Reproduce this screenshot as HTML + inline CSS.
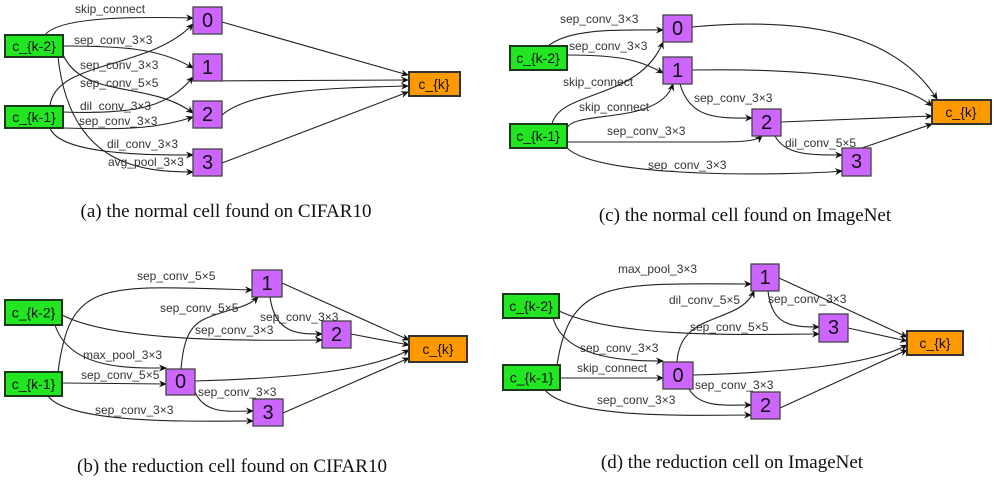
<!DOCTYPE html>
<html><head><meta charset="utf-8"><style>
html,body{margin:0;padding:0;background:#fff;}
svg{display:block}
.e{fill:none;stroke:#222;stroke-width:1.1;marker-end:url(#a)}
.l{font-family:"Liberation Sans",sans-serif;font-size:12px;fill:#333}
.g{fill:#22e622;stroke:#1a3a1a;stroke-width:2}
.p{fill:#cc66ff;stroke:#444;stroke-width:1.3}
.o{fill:#ff9900;stroke:#333;stroke-width:2}
.nt{font-family:"Liberation Sans",sans-serif;font-size:14px;fill:#111;text-anchor:middle;dominant-baseline:central}
.nn{font-family:"Liberation Sans",sans-serif;font-size:20px;fill:#111;text-anchor:middle;dominant-baseline:central}
.c{font-family:"Liberation Serif",serif;font-size:19px;fill:#111;text-anchor:middle}
</style></head><body>
<svg width="994" height="486" viewBox="0 0 994 486">
<defs><marker id="a" markerWidth="8" markerHeight="8" refX="7" refY="4" orient="auto" markerUnits="userSpaceOnUse"><path d="M0,0.5 L8,4 L0,7.5 L2.5,4 z" fill="#111"/></marker></defs>

<!-- Panel a -->
<path class="e" d="M45 35 C60 15,150 17,193 18"/>
<path class="e" d="M63 46 C120 46,160 48,193 68"/>
<path class="e" d="M50 106 C55 60,150 70,193 24"/>
<path class="e" d="M62 52 C80 100,150 80,193 113"/>
<path class="e" d="M63 112 C140 115,170 105,193 77"/>
<path class="e" d="M63 128 C130 130,160 128,193 117"/>
<path class="e" d="M50 128 C60 155,150 155,193 155"/>
<path class="e" d="M58 57 C70 165,140 172,193 172"/>
<path class="e" d="M222 22 L408 75"/>
<path class="e" d="M195 81 L408 80"/>
<path class="e" d="M222 115 C250 90,330 88,408 86"/>
<path class="e" d="M222 163 L408 92"/>
<text class="l" x="75" y="13">skip_connect</text>
<text class="l" x="74" y="44">sep_conv_3×3</text>
<text class="l" x="80" y="69">sep_conv_3×3</text>
<text class="l" x="80" y="87">sep_conv_5×5</text>
<text class="l" x="80" y="110">dil_conv_3×3</text>
<text class="l" x="79" y="125">sep_conv_3×3</text>
<text class="l" x="107" y="148">dil_conv_3×3</text>
<text class="l" x="108" y="166">avg_pool_3×3</text>
<rect class="g" x="5" y="35" width="58" height="22"/><text class="nt" x="34" y="46">c_{k-2}</text>
<rect class="g" x="5" y="106" width="58" height="22"/><text class="nt" x="34" y="117">c_{k-1}</text>
<rect class="p" x="193" y="7" width="29" height="27"/><text class="nn" x="207.5" y="21">0</text>
<rect class="p" x="193" y="54" width="29" height="27"/><text class="nn" x="207.5" y="68">1</text>
<rect class="p" x="193" y="101" width="29" height="27"/><text class="nn" x="207.5" y="115">2</text>
<rect class="p" x="193" y="149" width="29" height="27"/><text class="nn" x="207.5" y="163">3</text>
<rect class="o" x="409" y="72" width="51" height="24"/><text class="nt" x="434" y="84">c_{k}</text>
<text class="c" x="226" y="217">(a) the normal cell found on CIFAR10</text>

<!-- Panel c -->
<path class="e" d="M548 46 C570 28,620 30,663 30"/>
<path class="e" d="M567 55 C620 55,640 60,663 73"/>
<path class="e" d="M552 124 C560 90,640 100,663 42"/>
<path class="e" d="M567 128 C575 110,660 125,673 84"/>
<path class="e" d="M567 142 L700 142 C740 142,755 142,762 136"/>
<path class="e" d="M567 148 C600 180,800 175,842 171"/>
<path class="e" d="M680 84 C690 120,720 118,752 118"/>
<path class="e" d="M775 136 C785 155,810 155,842 155"/>
<path class="e" d="M692 27 C820 15,900 40,937 99"/>
<path class="e" d="M692 70 C820 68,900 80,932 106"/>
<path class="e" d="M781 122 L932 116"/>
<path class="e" d="M862 148 L932 124"/>
<text class="l" x="560" y="23">sep_conv_3×3</text>
<text class="l" x="569" y="50">sep_conv_3×3</text>
<text class="l" x="563" y="86">skip_connect</text>
<text class="l" x="579" y="111">skip_connect</text>
<text class="l" x="607" y="135">sep_conv_3×3</text>
<text class="l" x="648" y="169">sep_conv_3×3</text>
<text class="l" x="694" y="102">sep_conv_3×3</text>
<text class="l" x="785" y="147">dil_conv_5×5</text>
<rect class="g" x="510" y="46" width="57" height="24"/><text class="nt" x="538" y="58">c_{k-2}</text>
<rect class="g" x="510" y="124" width="57" height="24"/><text class="nt" x="538" y="136">c_{k-1}</text>
<rect class="p" x="663" y="15" width="29" height="27"/><text class="nn" x="677.5" y="29">0</text>
<rect class="p" x="663" y="57" width="29" height="27"/><text class="nn" x="677.5" y="71">1</text>
<rect class="p" x="752" y="109" width="29" height="27"/><text class="nn" x="766.5" y="123">2</text>
<rect class="p" x="842" y="148" width="29" height="28"/><text class="nn" x="856.5" y="162">3</text>
<rect class="o" x="932" y="100" width="59" height="24"/><text class="nt" x="961" y="112">c_{k}</text>
<text class="c" x="745" y="221">(c) the normal cell found on ImageNet</text>

<!-- Panel b -->
<path class="e" d="M58 372 C70 280,100 285,252 290"/>
<path class="e" d="M181 369 C185 320,200 320,230 310 C250 305,255 300,258 297"/>
<path class="e" d="M62 315 C120 345,280 340,322 340"/>
<path class="e" d="M55 325 C70 370,130 368,166 368"/>
<path class="e" d="M62 383 L166 384"/>
<path class="e" d="M48 396 C70 425,200 421,253 421"/>
<path class="e" d="M270 297 C275 335,300 334,322 334"/>
<path class="e" d="M195 392 C205 415,230 411,253 411"/>
<path class="e" d="M282 283 L409 340"/>
<path class="e" d="M351 334 L409 345"/>
<path class="e" d="M195 381 C300 378,370 370,409 350"/>
<path class="e" d="M283 413 L409 358"/>
<text class="l" x="137" y="280">sep_conv_5×5</text>
<text class="l" x="160" y="312">sep_conv_5×5</text>
<text class="l" x="260" y="321">sep_conv_3×3</text>
<text class="l" x="195" y="334">sep_conv_3×3</text>
<text class="l" x="83" y="359">max_pool_3×3</text>
<text class="l" x="81" y="379">sep_conv_5×5</text>
<text class="l" x="198" y="396">sep_conv_3×3</text>
<text class="l" x="95" y="414">sep_conv_3×3</text>
<rect class="g" x="5" y="300" width="57" height="25"/><text class="nt" x="33.5" y="312.5">c_{k-2}</text>
<rect class="g" x="5" y="372" width="57" height="24"/><text class="nt" x="33.5" y="384">c_{k-1}</text>
<rect class="p" x="166" y="369" width="29" height="26"/><text class="nn" x="180.5" y="382">0</text>
<rect class="p" x="252" y="270" width="30" height="27"/><text class="nn" x="267" y="284">1</text>
<rect class="p" x="322" y="321" width="29" height="27"/><text class="nn" x="336.5" y="335">2</text>
<rect class="p" x="253" y="399" width="30" height="27"/><text class="nn" x="268" y="413">3</text>
<rect class="o" x="409" y="336" width="58" height="26"/><text class="nt" x="438" y="349">c_{k}</text>
<text class="c" x="232" y="472">(b) the reduction cell found on CIFAR10</text>

<!-- Panel d -->
<path class="e" d="M557 365 C570 280,610 283,751 284"/>
<path class="e" d="M677 362 C680 310,740 325,754 291"/>
<path class="e" d="M559 311 C620 340,760 334,819 334"/>
<path class="e" d="M553 318 C565 360,630 361,663 361"/>
<path class="e" d="M560 378 L663 378"/>
<path class="e" d="M545 390 C570 420,700 415,751 415"/>
<path class="e" d="M768 291 C772 325,790 327,819 327"/>
<path class="e" d="M689 389 C700 408,725 405,751 405"/>
<path class="e" d="M779 278 L907 337"/>
<path class="e" d="M848 328 L907 341"/>
<path class="e" d="M693 375 C790 372,870 365,907 345"/>
<path class="e" d="M780 408 L907 350"/>
<text class="l" x="618" y="273">max_pool_3×3</text>
<text class="l" x="669" y="304">dil_conv_5×5</text>
<text class="l" x="768" y="303">sep_conv_3×3</text>
<text class="l" x="690" y="331">sep_conv_5×5</text>
<text class="l" x="580" y="352">sep_conv_3×3</text>
<text class="l" x="577" y="372">skip_connect</text>
<text class="l" x="695" y="389">sep_conv_3×3</text>
<text class="l" x="597" y="404">sep_conv_3×3</text>
<rect class="g" x="503" y="294" width="56" height="24"/><text class="nt" x="531" y="306">c_{k-2}</text>
<rect class="g" x="503" y="365" width="57" height="25"/><text class="nt" x="531.5" y="377.5">c_{k-1}</text>
<rect class="p" x="663" y="362" width="30" height="27"/><text class="nn" x="678" y="376">0</text>
<rect class="p" x="751" y="264" width="28" height="27"/><text class="nn" x="765" y="278">1</text>
<rect class="p" x="819" y="314" width="29" height="28"/><text class="nn" x="833.5" y="328">3</text>
<rect class="p" x="751" y="392" width="29" height="27"/><text class="nn" x="765.5" y="406">2</text>
<rect class="o" x="907" y="331" width="56" height="24"/><text class="nt" x="935" y="343">c_{k}</text>
<text class="c" x="732" y="468">(d) the reduction cell on ImageNet</text>
</svg>
</body></html>
